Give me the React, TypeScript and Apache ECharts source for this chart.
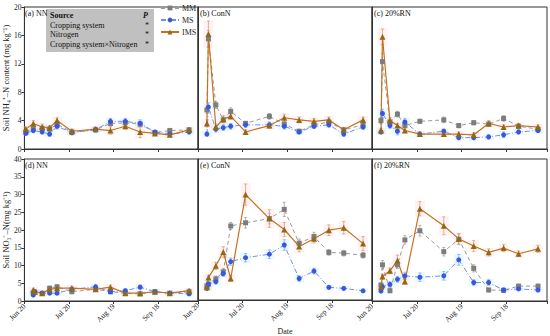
import React, { useEffect, useRef } from "react";
import * as echarts from "echarts";

// ---- data ----
const xTickLabels = ["Jun 20", "Jul 20", "Aug 19", "Sep 18"];
const seriesNames = ["MM", "MS", "IMS"];
const panelLabels = ["(a) NN", "(b) ConN", "(c) 20%RN", "(d) NN", "(e) ConN", "(f) 20%RN"];
const tableRows = ["Cropping system", "Nitrogen", "Cropping system×Nitrogen"];
const tableP = ["*", "*", "*"];

// days after Jun 20
const daysA = [1, 6, 12, 17, 22, 32, 48, 58, 68, 78, 88, 98, 111];
const daysB = [6, 7, 12, 17, 22, 32, 48, 58, 68, 78, 88, 98, 111];

// NH4+-N
const MM_a = [2.4, 2.9, 2.9, 2.8, 3.5, 2.4, 2.7, 3.6, 3.7, 3.5, 2.3, 2.6, 2.7];
const MS_a = [2.2, 2.6, 2.4, 2.1, 3.2, 2.3, 2.7, 3.9, 3.9, 3.6, 2.4, 2.1, 2.4];
const IMS_a = [2.8, 3.6, 3.1, 3.0, 4.0, 2.5, 2.8, 2.6, 3.2, 2.4, 2.2, 2.0, 2.7];
const MM_b = [5.5, 15.5, 6.2, 4.1, 5.3, 3.6, 4.6, 3.5, 2.5, 3.4, 3.8, 2.7, 3.4];
const MS_b = [2.1, 5.9, 2.8, 3.0, 3.2, 3.4, 3.4, 3.2, 2.4, 3.2, 3.4, 2.1, 3.1];
const IMS_b = [3.6, 16.2, 3.1, 4.2, 4.6, 2.4, 3.3, 4.4, 4.1, 3.9, 4.1, 2.7, 4.1];
const MM_c = [4.0, 12.3, 3.8, 4.9, 3.3, 3.9, 4.1, 3.3, 3.7, 3.5, 4.3, 3.2, 2.8];
const MS_c = [2.4, 5.0, 3.3, 2.5, 3.8, 2.1, 2.5, 1.6, 1.6, 1.7, 2.0, 2.4, 2.6];
const IMS_c = [2.6, 15.8, 4.0, 3.3, 2.6, 2.1, 2.1, 2.1, 2.0, 3.6, 3.1, 3.3, 3.1];

// NO3--N
const MM_d = [2.3, 2.5, 2.2, 3.6, 4.0, 2.6, 3.3, 2.6, 2.2, 2.0, 2.6, 2.2, 2.6];
const MS_d = [1.7, 2.6, 2.2, 2.2, 2.2, 3.3, 4.0, 2.6, 2.9, 3.9, 2.6, 2.2, 2.0];
const IMS_d = [3.1, 2.6, 2.2, 3.3, 3.6, 3.6, 3.3, 3.9, 2.2, 2.2, 2.6, 2.2, 2.9];
const MM_e = [4.0, 4.5, 6.0, 8.0, 21.0, 21.9, 23.1, 25.7, 16.1, 18.0, 13.5, 13.3, 12.7];
const MS_e = [3.3, 4.5, 5.2, 7.5, 10.9, 12.0, 13.0, 15.6, 6.1, 8.2, 3.6, 3.3, 2.6];
const IMS_e = [3.6, 6.4, 9.7, 13.6, 6.1, 29.9, 23.1, 20.0, 15.2, 17.4, 19.8, 20.5, 16.0];
const MM_f = [4.5, 10.2, 2.9, 10.2, 17.2, 19.8, 13.9, 17.4, 9.2, 3.1, 3.0, 4.2, 4.2];
const MS_f = [2.8, 4.0, 4.7, 6.1, 7.1, 6.7, 7.1, 11.6, 5.2, 5.2, 3.1, 3.4, 3.1];
const IMS_f = [4.0, 6.9, 8.5, 11.4, 5.5, 26.0, 21.2, 17.5, 15.5, 13.7, 14.9, 13.3, 14.7];

// standard errors
const eMM_a = [0.2, 0.3, 0.3, 0.3, 0.4, 0.2, 0.3, 0.4, 0.4, 0.4, 0.2, 0.3, 0.3];
const eMS_a = [0.2, 0.3, 0.3, 0.3, 0.4, 0.3, 0.3, 0.4, 0.4, 0.5, 0.2, 0.2, 0.3];
const eIMS_a = [0.3, 0.4, 0.4, 0.3, 0.4, 0.3, 0.3, 0.5, 0.4, 0.8, 0.2, 0.3, 0.3];
const eMM_b = [0.5, 1.2, 0.5, 0.4, 0.5, 0.3, 0.4, 0.4, 0.3, 0.3, 0.4, 0.3, 0.3];
const eMS_b = [0.3, 0.6, 0.4, 0.4, 0.4, 0.4, 0.4, 0.4, 0.3, 0.3, 0.3, 0.3, 0.3];
const eIMS_b = [0.5, 1.8, 0.4, 0.5, 0.4, 0.3, 0.4, 0.5, 0.4, 0.4, 0.4, 0.3, 0.4];
const eMM_c = [0.4, 1.2, 0.4, 0.4, 0.3, 0.3, 0.4, 0.3, 0.3, 0.3, 0.4, 0.3, 0.3];
const eMS_c = [0.3, 0.6, 0.4, 0.5, 0.5, 0.3, 0.3, 0.3, 0.3, 0.3, 0.4, 0.3, 0.3];
const eIMS_c = [0.3, 1.1, 0.4, 0.3, 0.3, 0.3, 0.3, 0.3, 0.3, 0.4, 0.3, 0.3, 0.3];
const eMM_d = [0.4, 0.4, 0.4, 0.6, 0.6, 0.5, 0.5, 0.5, 0.4, 0.4, 0.4, 0.4, 0.4];
const eMS_d = [0.4, 0.4, 0.4, 0.4, 0.4, 0.5, 0.6, 0.4, 0.5, 0.6, 0.4, 0.4, 0.4];
const eIMS_d = [0.5, 0.4, 0.4, 0.5, 0.6, 0.6, 0.5, 0.6, 0.4, 0.4, 0.4, 0.4, 0.5];
const eMM_e = [0.5, 0.6, 0.8, 1.0, 1.0, 1.5, 1.5, 2.0, 1.2, 1.2, 0.8, 0.8, 0.8];
const eMS_e = [0.4, 0.6, 0.7, 0.8, 1.0, 1.2, 1.2, 1.5, 0.8, 0.8, 0.5, 0.4, 0.4];
const eIMS_e = [0.5, 0.7, 1.0, 1.5, 0.8, 3.0, 2.5, 2.0, 1.5, 1.2, 1.5, 1.8, 2.0];
const eMM_f = [0.5, 1.2, 0.6, 1.0, 1.2, 1.5, 1.2, 1.5, 1.0, 0.5, 0.4, 0.5, 0.5];
const eMS_f = [0.4, 0.6, 0.7, 0.8, 1.0, 1.2, 1.2, 1.5, 0.8, 0.8, 0.5, 0.4, 0.4];
const eIMS_f = [0.5, 0.7, 0.8, 1.5, 0.8, 2.0, 2.5, 1.5, 1.5, 1.0, 1.0, 0.8, 1.0];

const panelDays = [daysA, daysB, daysB, daysB, daysB, daysB];
const panelVals = [
  [MM_a, MS_a, IMS_a], [MM_b, MS_b, IMS_b], [MM_c, MS_c, IMS_c],
  [MM_d, MS_d, IMS_d], [MM_e, MS_e, IMS_e], [MM_f, MS_f, IMS_f],
];
const panelErrs = [
  [eMM_a, eMS_a, eIMS_a], [eMM_b, eMS_b, eIMS_b], [eMM_c, eMS_c, eIMS_c],
  [eMM_d, eMS_d, eIMS_d], [eMM_e, eMS_e, eIMS_e], [eMM_f, eMS_f, eIMS_f],
];

// ---- layout / style ----
const FONT = "Liberation Serif";
const lefts = [23, 198, 372];
const widths = [175, 174, 175];
const tops = [7, 159];
const H = 142;

const styles = [
  { symbol: "rect", mk: "#7d7d7d", line: "#9a9a9a", type: [4, 3] as any, err: "#a0a0a0", shade: "rgba(200,200,200,0.0)" },
  { symbol: "circle", mk: "#3b55e0", line: "#6f8df5", type: [5, 2, 1, 2] as any, err: "#8fa6f5", shade: "rgba(160,235,255,0.22)" },
  { symbol: "triangle", mk: "#8e6a12", line: "#c8701e", type: "solid" as any, err: "#e0a070", shade: "rgba(255,190,205,0.22)" },
];

export default function App() {
  const ref = useRef<HTMLDivElement>(null);
  useEffect(() => {
    if (!ref.current) return;
    const chart = echarts.init(ref.current, null, { renderer: "svg" });

    const grids: any[] = [];
    const xAxes: any[] = [];
    const yAxes: any[] = [];
    const series: any[] = [];
    const graphics: any[] = [];

    for (let i = 0; i < 6; i++) {
      const row = Math.floor(i / 3);
      const col = i % 3;
      grids.push({
        left: lefts[col], top: tops[row], width: widths[col], height: H,
        show: true, borderColor: "#333", borderWidth: 1, backgroundColor: "transparent",
      });
      xAxes.push({
        type: "value", gridIndex: i, min: 0, max: 117, interval: 30,
        axisLine: { show: true, lineStyle: { color: "#333", width: 1 } },
        axisTick: { show: true, length: 3, lineStyle: { color: "#333" } },
        splitLine: { show: false },
        axisLabel: {
          show: row === 1, rotate: 45, fontSize: 7.5, color: "#222", fontFamily: FONT, margin: 4,
          formatter: (v: number) => xTickLabels[Math.round(v / 30)] ?? "",
        },
        name: row === 1 && col === 1 ? "Date" : "",
        nameLocation: "middle", nameGap: 27,
        nameTextStyle: { fontSize: 8, color: "#222", fontFamily: FONT },
      });
      yAxes.push({
        type: "value", gridIndex: i, min: 0, max: row === 0 ? 20 : 40, interval: row === 0 ? 4 : 5,
        axisLine: { show: true, lineStyle: { color: "#333", width: 1 } },
        axisTick: { show: col === 0, length: 3, lineStyle: { color: "#333" } },
        splitLine: { show: false },
        axisLabel: { show: col === 0, fontSize: 7.5, color: "#222", fontFamily: FONT, margin: 3 },
        name: col === 0 ? (row === 0 ? "Soil NH₄⁺–N content (mg kg⁻¹)" : "Soil NO₃⁻–N(mg kg⁻¹)") : "",
        nameLocation: "middle", nameGap: 14, nameRotate: 90,
        nameTextStyle: { fontSize: 8.5, color: "#222", fontFamily: FONT },
      });

      const days = panelDays[i];
      for (let s = 0; s < 3; s++) {
        const vals = panelVals[i][s];
        const errs = panelErrs[i][s];
        const st = styles[s];
        series.push({
          type: "custom", name: "err" + seriesNames[s], xAxisIndex: i, yAxisIndex: i,
          z: 1, silent: true,
          encode: { x: 0, y: [1, 2] },
          data: days.map((d, k) => [d, vals[k] - errs[k], vals[k] + errs[k]]),
          renderItem: (params: any, api: any) => {
            const x = api.value(0);
            const lo = api.coord([x, api.value(1)]);
            const hi = api.coord([x, api.value(2)]);
            return {
              type: "group",
              children: [
                { type: "rect", shape: { x: lo[0] - 5, y: hi[1] - 1, width: 10, height: lo[1] - hi[1] + 2 }, style: { fill: st.shade } },
                { type: "line", shape: { x1: lo[0], y1: lo[1], x2: hi[0], y2: hi[1] }, style: { stroke: st.err, lineWidth: 0.8 } },
                { type: "line", shape: { x1: lo[0] - 1.5, y1: lo[1], x2: lo[0] + 1.5, y2: lo[1] }, style: { stroke: st.err, lineWidth: 0.8 } },
                { type: "line", shape: { x1: hi[0] - 1.5, y1: hi[1], x2: hi[0] + 1.5, y2: hi[1] }, style: { stroke: st.err, lineWidth: 0.8 } },
              ],
            };
          },
        });
      }
      for (let s = 0; s < 3; s++) {
        const vals = panelVals[i][s];
        const st = styles[s];
        series.push({
          type: "line", name: seriesNames[s], xAxisIndex: i, yAxisIndex: i, z: 3,
          data: days.map((d, k) => [d, vals[k]]),
          symbol: st.symbol, symbolSize: s === 2 ? 6 : 5,
          itemStyle: { color: st.mk },
          lineStyle: { color: st.line, width: s === 2 ? 1.2 : 1, type: st.type },
        });
      }
      graphics.push({
        type: "text", x: lefts[col] + 2, y: tops[row] + 2, z: 10,
        style: { text: panelLabels[i], fontSize: 8, fontFamily: FONT, fill: "#111" },
      });
    }

    // statistics table
    graphics.push({ type: "rect", shape: { x: 46, y: 9, width: 108, height: 43 }, style: { fill: "#c0c0c0" }, z: 5 });
    graphics.push({ type: "text", x: 50, y: 11, z: 6, style: { text: "Source", fontSize: 8, fontWeight: "bold", fontFamily: FONT, fill: "#111" } });
    graphics.push({ type: "text", x: 143, y: 11, z: 6, style: { text: "P", fontSize: 8, fontWeight: "bold", fontStyle: "italic", fontFamily: FONT, fill: "#111" } });
    tableRows.forEach((r, k) => {
      graphics.push({ type: "text", x: 50, y: 21 + k * 9.7, z: 6, style: { text: r, fontSize: 8, fontFamily: FONT, fill: "#111" } });
      graphics.push({ type: "text", x: 145, y: 21 + k * 9.7, z: 6, style: { text: tableP[k], fontSize: 8, fontFamily: FONT, fill: "#111" } });
    });

    chart.setOption({
      animation: false,
      backgroundColor: "#fff",
      textStyle: { fontFamily: FONT },
      grid: grids,
      xAxis: xAxes,
      yAxis: yAxes,
      legend: {
        data: seriesNames, orient: "vertical", left: 160, top: 4, padding: 0,
        itemWidth: 18, itemHeight: 6, itemGap: 4,
        textStyle: { fontSize: 8, fontFamily: FONT, color: "#222", padding: [0, 0, 0, -2] },
      },
      graphic: graphics,
      series,
    });
    return () => chart.dispose();
  }, []);
  return <div ref={ref} style={{ position: "fixed", left: 0, top: 0, width: 550, height: 336 }} />;
}
